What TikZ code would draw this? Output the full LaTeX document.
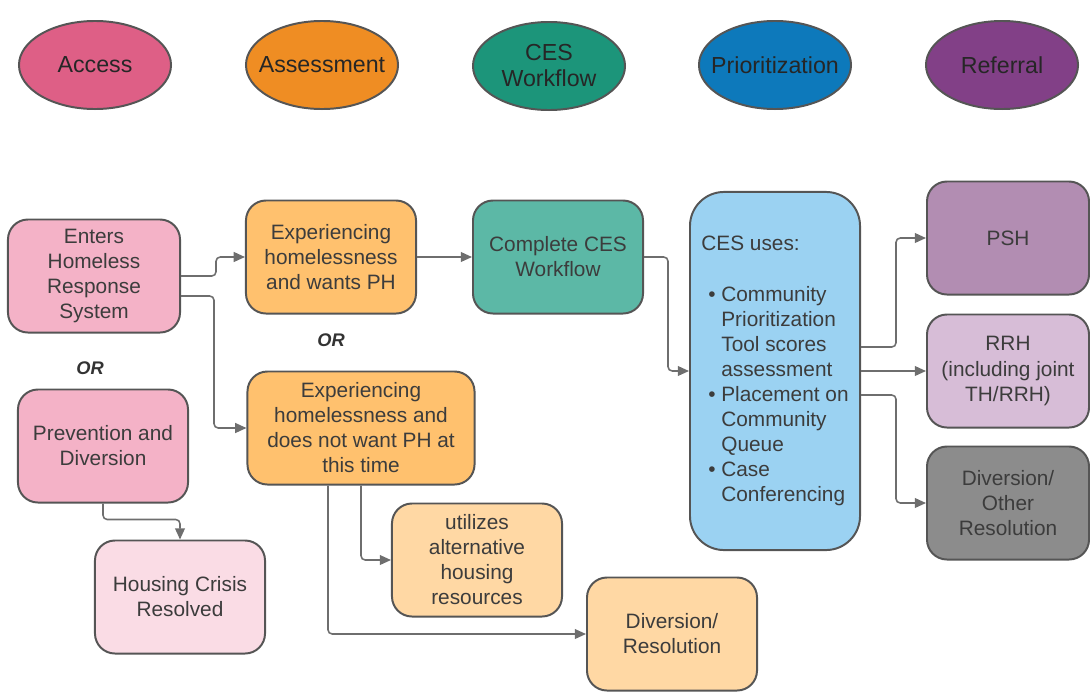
\documentclass[tikz,border=0pt]{standalone}
\usepackage{fontspec}
\setmainfont{Liberation Sans}
\usetikzlibrary{shapes.geometric,arrows.meta}

\definecolor{boxline}{HTML}{555555}
\definecolor{linegray}{HTML}{6E6E6E}
\definecolor{textgray}{HTML}{3C3C3C}
\definecolor{accesspink}{HTML}{DE5F86}
\definecolor{assessorange}{HTML}{EF8D23}
\definecolor{workteal}{HTML}{1C957A}
\definecolor{prioblue}{HTML}{0D79BB}
\definecolor{refpurple}{HTML}{824087}
\definecolor{pinkbox}{HTML}{F4B2C7}
\definecolor{palepink}{HTML}{FADCE5}
\definecolor{orangebox}{HTML}{FFC16E}
\definecolor{paleorange}{HTML}{FFD8A4}
\definecolor{tealbox}{HTML}{5CB8A6}
\definecolor{bluebox}{HTML}{9BD2F2}
\definecolor{pshpurple}{HTML}{B28DB2}
\definecolor{rrhpurple}{HTML}{D7BDD7}
\definecolor{graybox}{HTML}{8C8C8C}

\newcommand{\ptitem}{\hspace*{5pt}\textbullet\hspace{4pt}}
\newcommand{\ptcont}{\hspace*{5pt}\phantom{\textbullet}\hspace{4pt}}

\tikzset{
        phasetext/.style = {align=center, text=black!85, inner sep=0pt,
            font=\fontsize{16.5}{18.5}\selectfont},
        phase/.style = {ellipse, draw=boxline, line width=1.4pt, minimum width=3.8cm,
            minimum height=2.2cm, inner sep=0pt, label={[phasetext]center:#1}},
        box/.style = {rectangle, rounded corners=0.5cm, draw=boxline, line width=1.4pt,
            minimum width=4.25cm, minimum height=2.825cm, align=center, text=textgray,
            inner sep=2pt, font=\fontsize{14.8}{17.8}\selectfont},
        conn/.style = {draw=linegray, line width=1.1pt, rounded corners=3pt,
            -{Triangle[length=8pt, width=7pt]}},
        ortext/.style = {text=black!80, font=\fontsize{13}{15}\selectfont\bfseries\itshape}
    }

\begin{document}
\begin{tikzpicture}[x=0.025cm, y=-0.025cm]
            \useasboundingbox (0,0) rectangle (1090,692);

            % phases
            \node[phase=Access, fill=accesspink] (access) at (95,65) {};
            \node[phase=Assessment, fill=assessorange] (assess) at (322,65) {};
            \node[phase={CES\\Workflow}, fill=workteal] (workflow) at (549,66) {};
            \node[phase=Prioritization, fill=prioblue] (prio) at (775,65) {};
            \node[phase=Referral, fill=refpurple] (referral) at (1002,65) {};

            % access
            \node[box, fill=pinkbox, minimum width=4.3cm] (enter) at (94,276) {Enters\\Homeless\\Response\\System};
            \node[ortext] (or1) at (90,368) {OR};
            \node[box, fill=pinkbox] (prev) at (103,446) {Prevention and\\Diversion};
            \node[box, fill=palepink] (crisis) at (180,597) {Housing Crisis\\Resolved};

            % assessment
            \node[box, fill=orangebox] (wantph) at (331,257) {Experiencing\\homelessness\\and wants PH};
            \node[ortext] (or2) at (331,340) {OR};
            \node[box, fill=orangebox, minimum width=5.675cm] (notph) at (361,428)
                {Experiencing\\homelessness and\\does not want PH at\\this time};
            \node[box, fill=paleorange] (alt) at (477,560) {utilizes\\alternative\\housing\\resources};
            \node[box, fill=paleorange] (divres) at (672,634) {Diversion/\\Resolution};

            % workflow and prioritization
            \node[box, fill=tealbox] (ces) at (558,257) {Complete CES\\Workflow};
            \node[box, fill=bluebox, rounded corners=0.85cm, minimum height=8.95cm, align=left] (uses) at (775,371)
                {CES uses:\\[17.8pt]
                 \ptitem Community\\ \ptcont Prioritization\\ \ptcont Tool scores\\ \ptcont assessment\\
                 \ptitem Placement on\\ \ptcont Community\\ \ptcont Queue\\
                 \ptitem Case\\ \ptcont Conferencing};

            % referral
            \node[box, fill=pshpurple, minimum width=4.05cm] (psh) at (1008,238) {PSH};
            \node[box, fill=rrhpurple, minimum width=4.05cm] (rrh) at (1008,371) {RRH\\(including joint\\TH/RRH)};
            \node[box, fill=graybox, minimum width=4.05cm] (divother) at (1008,503) {Diversion/\\Other\\Resolution};

            \draw[conn] (enter.east) -- ++(35,0) |- (wantph.west);
            \draw[conn] ([yshift=-0.5cm]enter.east) -- ++(33,0) |- (notph.west);
            \draw[conn] (prev.south) -- ++(0,16) -| (crisis.north);
            \draw[conn] (wantph) -- (ces);
            \draw[conn] (notph.south) |- (alt.west);
            \draw[conn] ([xshift=-0.825cm]notph.south) |- (divres.west);
            \draw[conn] (ces.east) -- ++(24,0) |- (uses.west);
            \draw[conn] ([yshift=0.6cm]uses.east) -- ++(35,0) |- (psh.west);
            \draw[conn] (uses.east) -- (rrh.west);
            \draw[conn] ([yshift=-0.6cm]uses.east) -- ++(35,0) |- (divother.west);

        \end{tikzpicture}
\end{document}
